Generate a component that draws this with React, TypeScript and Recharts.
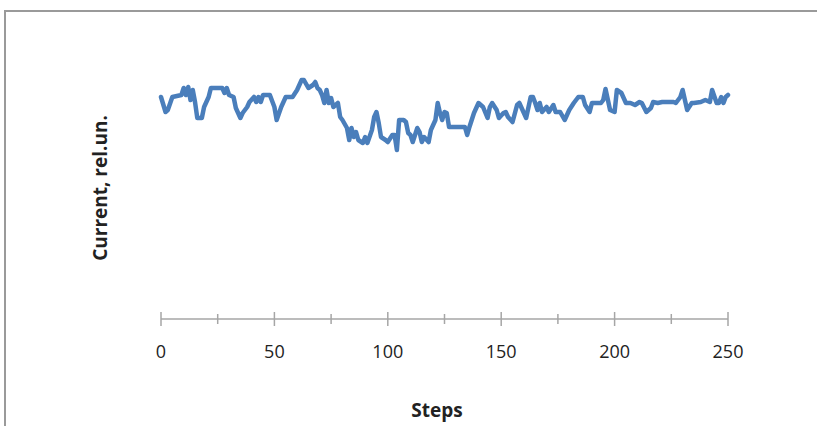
import { LineChart, Line, XAxis, YAxis } from 'recharts';

// step numbers and current readings (rel. units)
const steps = [
    0, 2, 3, 5, 9, 10, 11, 12, 13, 14, 15, 16, 18, 19, 21, 22, 27, 28, 29, 30, 32, 33, 35, 36, 38, 39, 41, 42, 43, 44,
    45, 48, 50, 51, 53, 55, 58, 60, 62, 63, 65, 67, 68, 69, 70, 71, 72, 73, 74, 75, 76, 78, 79, 80, 82, 83, 84, 85, 86,
    87, 89, 90, 91, 93, 94, 95, 96, 97, 99, 100, 102, 103, 104, 105, 107, 108, 109, 110, 111, 112, 113, 114, 115, 116,
    118, 119, 121, 122, 123, 124, 125, 126, 127, 134, 135, 136, 138, 140, 142, 144, 145, 146, 148, 149, 151, 152, 153,
    155, 157, 158, 160, 161, 163, 164, 165, 166, 167, 168, 170, 171, 173, 174, 176, 178, 180, 182, 184, 186, 187, 189,
    190, 193, 194, 195, 196, 198, 200, 201, 203, 205, 207, 209, 211, 212, 214, 216, 217, 219, 221, 223, 226, 227, 229,
    230, 231, 232, 234, 235, 238, 240, 242, 243, 245, 246, 247, 248, 249, 250,
];

const current = [
    222, 207, 209, 222, 224, 231, 224, 232, 219, 229, 217, 201, 201, 212, 222, 231, 231, 226, 231, 224, 222, 211, 201,
    206, 212, 217, 222, 217, 222, 217, 224, 224, 212, 199, 212, 222, 222, 229, 239, 239, 231, 234, 237, 231, 229, 224,
    216, 229, 216, 221, 212, 216, 202, 199, 191, 179, 191, 182, 187, 179, 176, 182, 176, 189, 202, 207, 196, 182, 179,
    177, 184, 184, 169, 199, 199, 197, 186, 184, 177, 184, 191, 187, 177, 182, 177, 189, 199, 216, 206, 199, 207, 206,
    192, 192, 184, 192, 206, 216, 212, 201, 212, 216, 209, 201, 206, 207, 202, 197, 214, 216, 206, 201, 222, 222, 216,
    209, 216, 207, 212, 207, 214, 207, 207, 199, 209, 216, 222, 222, 214, 207, 216, 216, 216, 219, 230, 209, 207, 229,
    226, 216, 216, 214, 217, 216, 207, 211, 217, 216, 217, 217, 217, 216, 222, 229, 219, 209, 216, 216, 217, 219, 217,
    229, 216, 216, 222, 216, 222, 224,
];

const xTicks = [0, 25, 50, 75, 100, 125, 150, 175, 200, 225, 250];

const data = steps.map((s, i) => ({ step: s, current: current[i] }));

const AxisTick = (props: any) => {
    const { x, y, payload } = props;
    const major = payload.value % 50 === 0;
    const h = major ? 7 : 5;
    return (
        <g>
            <line x1={x} x2={x} y1={y - h} y2={y + h} stroke='#a6a6a6' strokeWidth={1.5} />
            {major && (
                <text x={x} y={y + 39} textAnchor='middle' fill='#222' fontSize={18} fontFamily='Open Sans, sans-serif'>
                    {payload.value}
                </text>
            )}
        </g>
    );
};

export default function App() {
    return (
        <div style={{ position: 'absolute', left: 0, top: 0, width: 817, height: 426, background: '#fff', overflow: 'hidden' }}>
            <div
                style={{
                    position: 'absolute',
                    left: 4,
                    top: 10,
                    width: 900,
                    height: 500,
                    borderLeft: '2px solid #9a9a9a',
                    borderTop: '2px solid #9a9a9a',
                }}
            />
            <div style={{ position: 'absolute', left: 0, top: 0 }}>
                <LineChart width={817} height={426} data={data} margin={{ top: 39, right: 89, bottom: 47, left: 161 }}>
                    <XAxis
                        dataKey='step'
                        type='number'
                        domain={[0, 250]}
                        ticks={xTicks}
                        interval={0}
                        height={60}
                        tickSize={0}
                        tickMargin={0}
                        tickLine={false}
                        axisLine={{ stroke: '#a6a6a6', strokeWidth: 1.5 }}
                        tick={<AxisTick />}
                    />
                    <YAxis hide domain={[0, 280]} />
                    <Line
                        type='linear'
                        dataKey='current'
                        stroke='#4a7ebb'
                        strokeWidth={4.5}
                        strokeLinejoin='round'
                        strokeLinecap='round'
                        dot={false}
                        isAnimationActive={false}
                    />
                </LineChart>
            </div>
            <div
                style={{
                    position: 'absolute',
                    left: 100,
                    top: 188,
                    transform: 'translate(-50%, -50%) rotate(-90deg)',
                    whiteSpace: 'nowrap',
                    fontFamily: 'Open Sans, sans-serif',
                    fontWeight: 'bold',
                    fontSize: 19,
                    color: '#222',
                }}
            >
                Current, rel.un.
            </div>
            <div
                style={{
                    position: 'absolute',
                    left: 437,
                    top: 410,
                    transform: 'translate(-50%, -50%)',
                    whiteSpace: 'nowrap',
                    fontFamily: 'Open Sans, sans-serif',
                    fontWeight: 'bold',
                    fontSize: 19,
                    color: '#222',
                }}
            >
                Steps
            </div>
        </div>
    );
}
